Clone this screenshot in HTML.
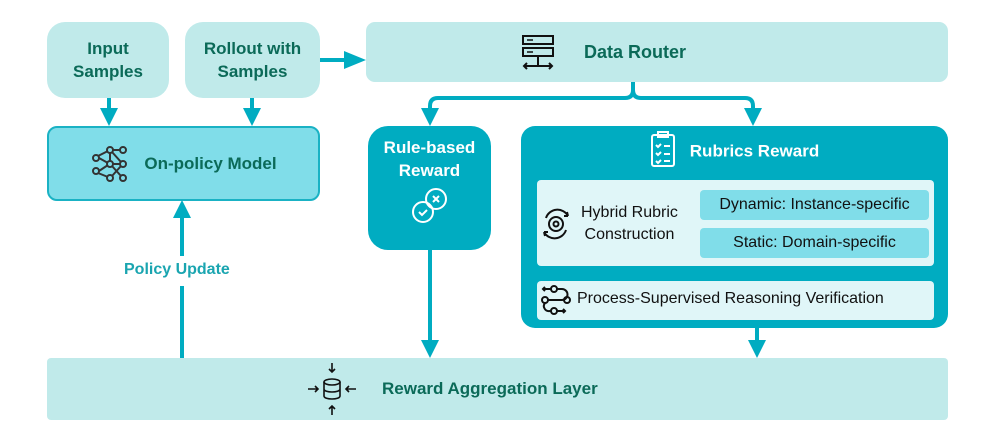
<!DOCTYPE html>
<html><head><meta charset="utf-8"><style>
body{margin:0;width:996px;height:443px;background:#fff;position:relative;font-family:"Liberation Sans",Arial,sans-serif;overflow:hidden}
.b{position:absolute;box-sizing:border-box;display:flex;align-items:center;justify-content:center;text-align:center}
.t{color:#0b6a58;font-weight:bold;font-size:17px;line-height:23px}
.lt{background:#c0eaea}
</style></head><body>
<div class="b lt t" style="left:47px;top:22px;width:122px;height:76px;border-radius:18px">Input<br>Samples</div>
<div class="b lt t" style="left:185px;top:22px;width:135px;height:76px;border-radius:18px">Rollout with<br>Samples</div>
<div class="b lt t" style="left:366px;top:22px;width:582px;height:60px;border-radius:9px;font-size:18px;display:block">
<svg width="40" height="40" viewBox="0 0 40 40" style="position:absolute;left:152px;top:10px" fill="none" stroke="#111" stroke-width="2">
<rect x="5" y="4" width="30" height="8"/><rect x="5" y="16" width="30" height="8"/><path d="M20 24v10M6 34h28M9 31l-3 3 3 3M31 31l3 3-3 3"/><path d="M9 8h6M9 20h6" stroke-width="1.5"/></svg>
<span style="position:absolute;left:218px;top:19px">Data Router</span></div>
<div class="b t" style="left:47px;top:126px;width:273px;height:75px;border-radius:10px;background:#80dde9;border:2px solid #1ab2c4">
<svg width="40" height="40" viewBox="0 0 40 40" style="margin-right:14px" fill="none" stroke="#333" stroke-width="2">
<circle cx="20" cy="6" r="3"/><circle cx="33" cy="6" r="3"/><circle cx="6" cy="14" r="3"/><circle cx="20" cy="20" r="3"/><circle cx="33" cy="20" r="3"/><circle cx="6" cy="27" r="3"/><circle cx="20" cy="34" r="3"/><circle cx="33" cy="34" r="3"/><path d="M8 12l10-5M9 14l9 5M9 27l9-6M8 29l10 4M22 8l9 10M22 20h8M22 32l9-10M22 22l9 10M23 6h7M20 9v8"/></svg>On-policy Model</div>
<div class="b" style="left:368px;top:126px;width:123px;height:124px;border-radius:20px;background:#00acc1;color:#fff;font-weight:bold;font-size:17px;line-height:23px;flex-direction:column;justify-content:flex-start;padding-top:10px">Rule-based<br>Reward
<svg width="40" height="40" viewBox="0 0 40 40" fill="none" stroke="#fff" stroke-width="2" style="margin-top:4px"><circle cx="13" cy="26" r="10"/><circle cx="26" cy="13" r="10"/><path d="M9 26l3 3 5-5M23 10l6 6M29 10l-6 6"/></svg></div>
<div class="b" style="left:521px;top:126px;width:427px;height:202px;border-radius:14px;background:#00acc1;display:block">
<div style="position:absolute;left:0;top:10px;width:100%;text-align:center;color:#fff;font-weight:bold;font-size:17px;line-height:30px">
<svg width="26" height="38" viewBox="0 0 26 38" fill="none" stroke="#fff" stroke-width="2" style="vertical-align:middle;margin-right:14px;margin-top:-6px"><rect x="2" y="5" width="22" height="31" rx="2"/><rect x="8" y="2" width="10" height="5"/><path d="M6 15l2 2 3-3M14 16h6M6 23l2 2 3-3M14 24h6M6 31l2 2 3-3M14 31h6"/></svg>Rubrics Reward</div>
<div style="position:absolute;left:16px;top:54px;width:397px;height:86px;background:#e0f6f8;border-radius:4px">
<svg width="32" height="32" viewBox="0 0 32 32" fill="none" stroke="#111" stroke-width="2" style="position:absolute;left:3px;top:28px"><circle cx="16" cy="16" r="7"/><circle cx="16" cy="16" r="2.5"/><path d="M6 10a12 12 0 0 1 22-2M28 8l-1-4M28 8l-4 0M26 22a12 12 0 0 1-22 2M4 24l1 4M4 24l4 0"/></svg>
<div style="position:absolute;left:44px;top:22px;font-size:16px;line-height:22px;color:#111">Hybrid Rubric<br>Construction</div>
<div class="b" style="left:163px;top:10px;width:229px;height:30px;background:#80dde9;border-radius:4px;font-size:16px;color:#111">Dynamic: Instance-specific</div>
<div class="b" style="left:163px;top:48px;width:229px;height:30px;background:#80dde9;border-radius:4px;font-size:16px;color:#111">Static: Domain-specific</div>
</div>
<div style="position:absolute;left:16px;top:155px;width:397px;height:39px;background:#e0f6f8;border-radius:4px">
<svg width="32" height="32" viewBox="0 0 32 32" fill="none" stroke="#111" stroke-width="2" style="position:absolute;left:3px;top:3px"><circle cx="14" cy="5" r="3"/><circle cx="5" cy="16" r="3"/><circle cx="27" cy="16" r="3"/><circle cx="14" cy="27" r="3"/><path d="M11 5H3M5 3l-2 2 2 2M17 5h5a5 5 0 0 1 0 11H8M5 19a5 5 0 0 0 5 8h1M17 27h8M23 25l2 2-2 2"/></svg>
<div style="position:absolute;left:40px;top:9px;font-size:16px;color:#111">Process-Supervised Reasoning Verification</div>
</div></div>
<div class="b lt t" style="left:47px;top:358px;width:901px;height:62px;border-radius:4px;display:block">
<svg width="52" height="56" viewBox="0 0 52 56" fill="none" stroke="#111" stroke-width="1.6" style="position:absolute;left:259px;top:3px"><ellipse cx="26" cy="21" rx="8" ry="3"/><path d="M18 21v14c0 4 16 4 16 0V21M18 28c0 4 16 4 16 0"/><path d="M26 2v9M23 8l3 3 3-3M26 54v-9M23 48l3-3 3 3M2 28h10M9 25l3 3-3 3M50 28H40M43 25l-3 3 3 3"/></svg>
<span style="position:absolute;left:335px;top:19px">Reward Aggregation Layer</span></div>
<div style="position:absolute;left:124px;top:261px;color:#1aa5b0;font-weight:bold;font-size:16px">Policy Update</div>
<svg width="996" height="443" style="position:absolute;left:0;top:0" fill="none" stroke="#00acc1" stroke-width="4">
<path d="M109 98v12M252 98v12M320 60h26M430 250v92M757 328v14M182 358v-72M182 256v-40"/>
<path d="M633 82v8q0 8-8 8H438q-8 0-8 8v4M633 90q0 8 8 8h104q8 0 8 8v4"/>
<g fill="#00acc1" stroke="none">
<path d="M100 108h18l-9 18zM243 108h18l-9 18zM344 51v18l22-9zM421 108h18l-9 18zM744 108h18l-9 18zM421 340h18l-9 18zM748 340h18l-9 18zM173 218h18l-9-18z"/></g>
</svg>
</body></html>
